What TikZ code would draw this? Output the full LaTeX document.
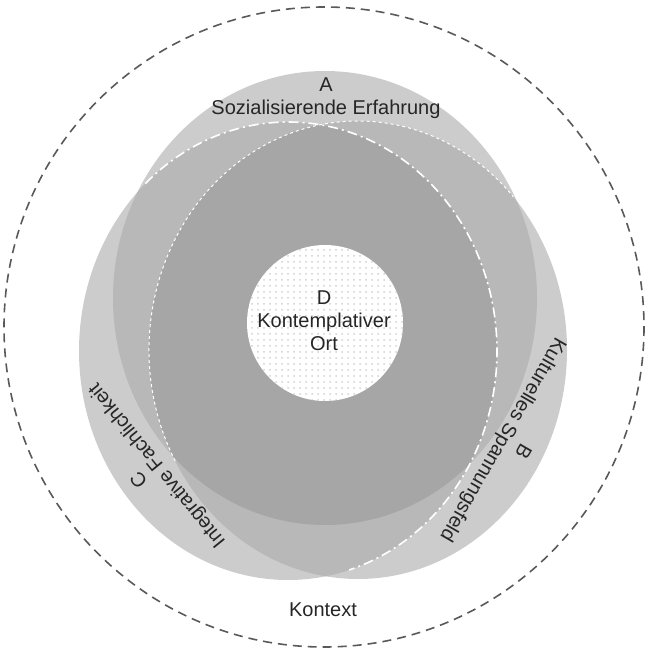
\documentclass[tikz,border=0pt]{standalone}
\usepackage{fontspec}
\setmainfont{Liberation Sans}
\usetikzlibrary{patterns}
\def\areaA{(325,298) ellipse [x radius=212, y radius=227]}
\def\areaB{(358,350) ellipse [x radius=209, y radius=229]}
\def\areaC{(288,351) ellipse [x radius=209, y radius=229]}
\colorlet{grayone}{black!20}
\colorlet{graytwo}{black!28}
\colorlet{graythree}{black!35}
\begin{document}
\begin{tikzpicture}[x=0.5pt,y=-0.5pt,
  lbltext/.style={align=center,text=black!85,font=\fontsize{10}{11.5}\selectfont,inner sep=0pt},
  finedash/.style={white,line width=0.5pt,dash pattern=on 1.5pt off 1.5pt},
  dashdot/.style={white,line width=0.8pt,dash pattern=on 5pt off 2pt on 1pt off 2pt}]
\useasboundingbox (0,0) rectangle (648,652);
% Kontext
\draw [black!65,line width=0.8pt,dash pattern=on 4.5pt off 3pt] (324,327) circle [radius=320];
% A, B, C
\fill [grayone] \areaA;
\fill [grayone] \areaB;
\fill [grayone] \areaC;
\begin{scope}
\clip \areaA;
\fill [graytwo] \areaB;
\fill [graytwo] \areaC;
\end{scope}
\begin{scope}
\clip \areaB;
\fill [graytwo] \areaC;
\end{scope}
\begin{scope}
\clip \areaA; \clip \areaB;
\fill [graythree] \areaC;
\end{scope}
\draw [finedash] (358,350) ++(151:209 and 229) arc [start angle=151,end angle=318,x radius=209,y radius=229];
\draw [dashdot] (288,351) ++(-133:209 and 229) arc [start angle=-133,end angle=73,x radius=209,y radius=229];
% D
\fill [white] (325,323) circle [radius=78];
\fill [pattern=dots,pattern color=black!18] (325,323) circle [radius=78];
\node [lbltext] (sozial) at (326,98) {A\\Sozialisierende Erfahrung};
\node [lbltext] (kontempl) at (324,321) {D\\Kontemplativer\\Ort};
\node [lbltext,rotate=-120] (kultur) at (512,445) {B\\Kulturelles Spannungsfeld};
\node [lbltext,rotate=129] (fach) at (149,472) {C\\Integrative Fachlichkeit};
\node [lbltext] (kontext) at (323,610) {Kontext};
\end{tikzpicture}
\end{document}
